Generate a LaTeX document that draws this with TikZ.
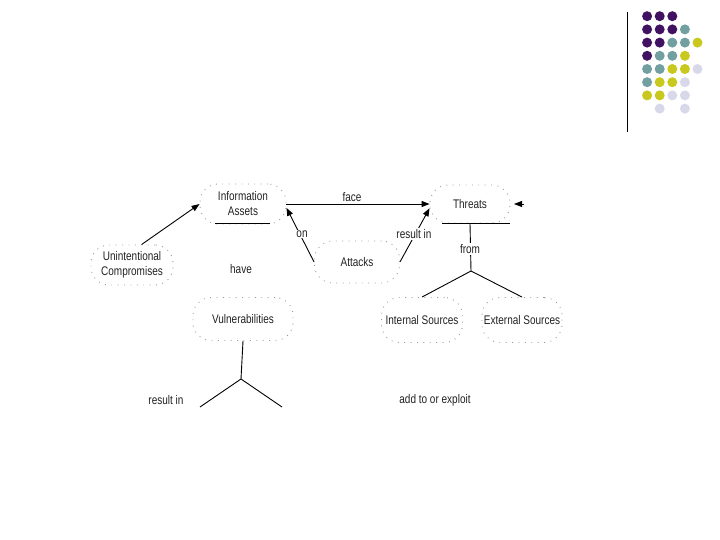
\documentclass[tikz,border=0pt]{standalone}
\usepackage{fontspec}
\setmainfont[FakeStretch=0.8]{Liberation Sans}
\usetikzlibrary{arrows.meta}
\definecolor{dpurple}{HTML}{421262}
\definecolor{dteal}{HTML}{72A0A0}
\definecolor{dyellow}{HTML}{C8C81E}
\definecolor{dlav}{HTML}{D8D8EA}
\definecolor{txt}{HTML}{222222}
\tikzset{
  cloud/.style={rectangle, rounded corners=18pt, draw=gray!80, line width=0.9pt, dash pattern=on 0.9pt off 5.5pt,
    align=center, text=txt, inner sep=0pt, font=\fontsize{12.5}{15}\selectfont},
  lbl/.style={text=txt, fill=white, inner sep=1pt, font=\fontsize{12.5}{14}\selectfont},
  conn/.style={draw=black, line width=0.9pt},
  arr/.style={conn, -{Triangle[length=8pt,width=6pt]}},
  dot/.style={circle, inner sep=0pt, minimum size=10pt}
}
\begin{document}
\begin{tikzpicture}[x=1pt,y=-1pt]
\useasboundingbox (0,0) rectangle (720,540);
% decoration
\draw[line width=1pt] (627,12) -- (627,132);
\foreach \c/\r/\col in {1/1/dpurple,2/1/dpurple,3/1/dpurple,
  1/2/dpurple,2/2/dpurple,3/2/dpurple,4/2/dteal,
  1/3/dpurple,2/3/dpurple,3/3/dteal,4/3/dteal,5/3/dyellow,
  1/4/dpurple,2/4/dteal,3/4/dteal,4/4/dyellow,
  1/5/dteal,2/5/dteal,3/5/dyellow,4/5/dyellow,5/5/dlav,
  1/6/dteal,2/6/dyellow,3/6/dyellow,4/6/dlav,
  1/7/dyellow,2/7/dyellow,3/7/dlav,4/7/dlav,
  2/8/dlav,4/8/dlav}
  \node[dot, fill=\col] (d\c\r) at ({634.5+12.6*\c},{3+13.2*\r}) {};
% nodes
\node[cloud, minimum width=86pt, minimum height=40pt] (ia) at (243,204) {Information\\Assets};
\node[cloud, minimum width=80pt, minimum height=38pt] (th) at (470,204) {Threats};
\node[cloud, minimum width=82pt, minimum height=40pt] (uc) at (132,265) {Unintentional\\Compromises};
\node[cloud, minimum width=85pt, minimum height=42pt] (at) at (357,262) {Attacks};
\node[cloud, minimum width=100pt, minimum height=43pt] (vu) at (243,319) {Vulnerabilities};
\node[cloud, minimum width=81pt, minimum height=45pt] (is) at (422,320) {Internal Sources};
\node[cloud, minimum width=80pt, minimum height=45pt] (es) at (522,320) {External Sources};
% underlines
\draw[conn] (ia.south) ++(-28,-1) -- ++(55,0);
\draw[conn] (th.south) ++(-28,0) -- ++(68,0);
% connectors
\draw[arr] (uc.65) -- (ia.west);
\draw[arr] (ia.east) -- (th.west);
\draw[arr] (at.180) -- (ia.-5);
\draw[arr] (at.0) -- (th.186);
\coordinate (tr) at (524,204);
\coordinate (tr2) at (514,204);
\draw[arr] (tr) -- (tr2);
\coordinate (j1) at (471,271);
\draw[conn] (th.south) -- (j1);
\draw[conn] (j1) -- (is.north);
\draw[conn] (j1) -- (es.north);
\coordinate (j2) at (241,379);
\coordinate (v1) at (200,407);
\coordinate (v2) at (282,407);
\draw[conn] (vu.south) -- (j2);
\draw[conn] (j2) -- (v1);
\draw[conn] (j2) -- (v2);
% labels
\node[lbl] (lface) at (352,197) {face};
\node[lbl] (lon) at (302,234) {on};
\node[lbl] (lres) at (414,234) {result in};
\node[lbl] (lfrom) at (470,249) {from};
\node[lbl] (lhave) at (241,269) {have};
\node[lbl] (lres2) at (166,400) {result in};
\node[lbl] (ladd) at (435,400) {add to or exploit};
\end{tikzpicture}
\end{document}
